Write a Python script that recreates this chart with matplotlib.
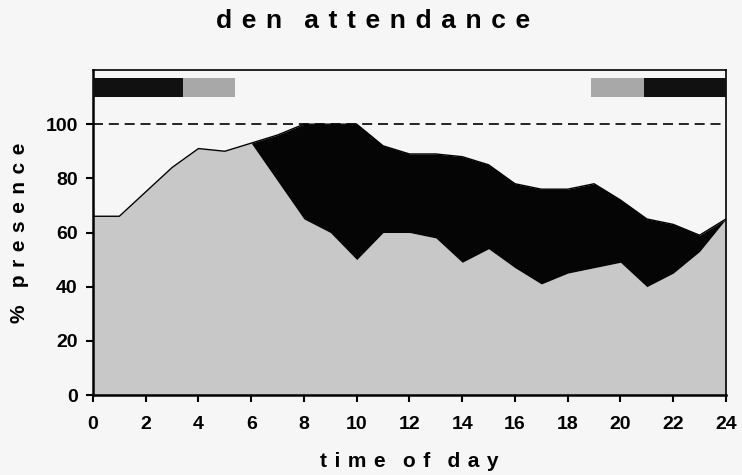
import matplotlib.pyplot as plt

# hourly den attendance, % of animals present
hours = list(range(25))
total = [66, 66, 75, 84, 91, 90, 93, 96, 100, 100, 100, 92, 89,
         89, 88, 85, 78, 76, 76, 78, 72, 65, 63, 59, 65]
resting = [66, 66, 75, 84, 91, 90, 93, 79, 65, 60, 50, 60, 60,
           58, 49, 54, 47, 41, 45, 47, 49, 40, 45, 53, 65]

# light/dark bar along the top: (start, end, colour)
phase_start = [0.0, 3.4, 18.9, 20.9]
phase_end = [3.4, 5.4, 20.9, 24.0]
phase_color = ["#111111", "#a8a8a8", "#a8a8a8", "#111111"]

x_ticks = list(range(0, 25, 2))
y_ticks = [0, 20, 40, 60, 80, 100]

BG = "#f6f6f6"
plt.rcParams["font.family"] = ["Liberation Sans", "DejaVu Sans"]


def spaced(s):
    # wide letter tracking for the headings
    return "   ".join(" \u200a".join(word) for word in s.split())


fig = plt.figure(figsize=(7.42, 4.75), dpi=100, facecolor=BG)
ax = fig.add_axes([0.1253, 0.1684, 0.8531, 0.6842])
ax.set_facecolor(BG)

ax.fill_between(hours, 0, resting, color="#c8c8c8", lw=0, zorder=1)
ax.fill_between(hours, resting, total, color="#050505", lw=0, zorder=2)
ax.plot(hours, total, color="black", lw=1.0, zorder=3)
ax.axhline(100, color="black", lw=1.2, ls=(0, (6, 3.5)), zorder=3)

for s, e, c in zip(phase_start, phase_end, phase_color):
    ax.fill_between([s, e], 110, 117, color=c, lw=0, zorder=4)

ax.set_xlim(0, 24)
ax.set_ylim(0, 120)
ax.set_xticks(x_ticks)
ax.set_yticks(y_ticks)
ax.tick_params(direction="out", length=5, width=1.5, labelsize=14)
ax.tick_params(axis="x", pad=10)
ax.tick_params(axis="y", pad=6)
for lab in ax.get_xticklabels() + ax.get_yticklabels():
    lab.set_fontweight("bold")
for sp in ax.spines.values():
    sp.set_linewidth(1.2)
ax.spines["left"].set_linewidth(1.8)
ax.spines["bottom"].set_linewidth(1.8)

ax.set_xlabel(spaced("time of day"), fontsize=15, fontweight="bold", labelpad=14)
ax.set_ylabel(spaced("% presence"), fontsize=15, fontweight="bold", labelpad=12)
fig.text(0.503, 0.941, spaced("den attendance"), ha="center", va="baseline",
         fontsize=19, fontweight="bold")

fig.savefig("out.png", dpi=100, facecolor=BG)
